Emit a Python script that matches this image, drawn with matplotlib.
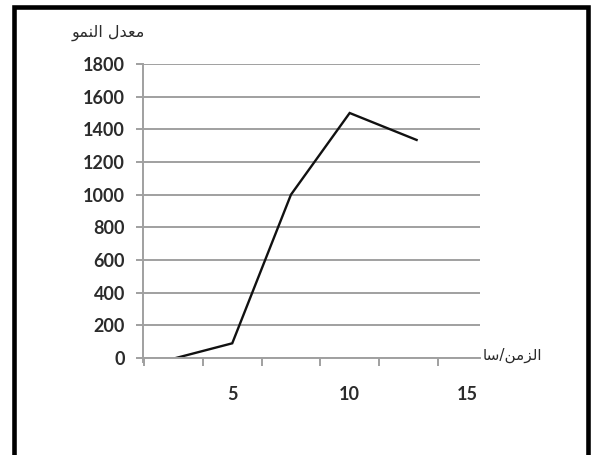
import matplotlib.pyplot as plt
from matplotlib.patches import Rectangle

# data
time_h = [2.6, 5, 7.5, 10, 12.85]
growth = [0, 90, 1000, 1500, 1335]
y_ticks = [0, 200, 400, 600, 800, 1000, 1200, 1400, 1600, 1800]
x_labels = [5, 10, 15]
x_minor = [1.25, 3.75, 6.25, 8.75, 11.25, 13.75]

# Arabic labels written as presentation forms in visual order
# (matplotlib does no shaping): "معدل النمو" and "الزمن/سا"
y_title = "\uFEEE\uFEE4\uFEE8\uFEDF\uFE8D \uFEDD\uFEAA\uFECC\uFEE3"
x_title = "\uFE8E\uFEB3/\uFEE6\uFEE3\uFEB0\uFEDF\uFE8D"

grid_col = "#a0a0a0"
text_col = "#2b2b2b"

fig = plt.figure(figsize=(5.96, 4.55), dpi=100)
ax = fig.add_axes([143 / 596, 1 - 358 / 455, (480 - 143) / 596, (358 - 64) / 455])

ax.plot(time_h, growth, color="#111111", lw=1.7, solid_joinstyle="miter")

ax.set_xlim(1.2, 15.55)
ax.set_ylim(0, 1800)
ax.set_yticks(y_ticks)
ax.set_xticks(x_labels)
ax.set_xticks(x_minor, minor=True)
ax.yaxis.grid(True, color=grid_col, lw=1.4)
ax.set_axisbelow(True)

for s in ["top", "right"]:
    ax.spines[s].set_visible(False)
ax.spines["left"].set_color(grid_col)
ax.spines["left"].set_linewidth(1.4)
ax.spines["left"].set_bounds(-25, 1800)
ax.spines["bottom"].set_color(grid_col)
ax.spines["bottom"].set_linewidth(1.4)
ax.spines["bottom"].set_zorder(3)

ax.tick_params(axis="y", length=5, width=1.4, color=grid_col, pad=8,
               labelsize=13, labelcolor=text_col)
ax.tick_params(axis="x", which="major", length=0, pad=20,
               labelsize=13, labelcolor=text_col)
ax.tick_params(axis="x", which="minor", length=6, width=1.4, color=grid_col)
for lab in ax.get_xticklabels() + ax.get_yticklabels():
    lab.set_family("Lato")
    lab.set_fontweight("bold")

fig.text(108 / 596, 1 - 33 / 455, y_title, ha="center", va="center",
         fontsize=11.5, color=text_col, family="DejaVu Sans")
fig.text(512 / 596, 1 - 355 / 455, x_title, ha="center", va="center",
         fontsize=11, color=text_col, family="DejaVu Sans")

# black frame around the picture (bottom edge is cut off)
frame = Rectangle((14 / 596, -0.05), (588 - 14) / 596, 1.05 - 7 / 455,
                  transform=fig.transFigure, fill=False, edgecolor="black",
                  lw=3.3, clip_on=False)
fig.patches.append(frame)

fig.savefig("out.png", dpi=100)
